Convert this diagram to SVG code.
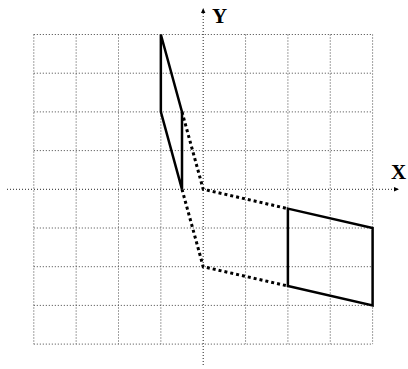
<svg xmlns="http://www.w3.org/2000/svg" width="408" height="369" viewBox="0 0 408 369">
<style>
.grid{stroke:#444;stroke-width:1;stroke-dasharray:1 2;fill:none}
.axis{stroke:#222;stroke-width:1;stroke-dasharray:1 2;fill:none}
.shape{stroke:#000;stroke-width:2.5;fill:none;stroke-linejoin:miter}
.proj{stroke:#000;stroke-width:3;stroke-dasharray:3 3;fill:none}
.lbl{font-family:"Liberation Serif","Times New Roman",serif;font-size:21px;font-weight:bold;fill:#000}
</style>
<defs>
<marker id="ah" markerWidth="6" markerHeight="6" refX="5" refY="3" orient="auto" markerUnits="userSpaceOnUse">
<path d="M0,0.8 L5,3 L0,5.2 Z" fill="#000"/>
</marker>
</defs>
<rect width="408" height="369" fill="#fff"/>
<g id="grid">
<path class="grid" d="M33.8,34.5V344.1M76.15,34.5V344.1M118.5,34.5V344.1M160.85,34.5V344.1M245.55,34.5V344.1M287.9,34.5V344.1M330.25,34.5V344.1M372.6,34.5V344.1"/>
<path class="grid" d="M33.8,34.5H372.6M33.8,73.2H372.6M33.8,111.9H372.6M33.8,150.6H372.6M33.8,228H372.6M33.8,266.7H372.6M33.8,305.4H372.6M33.8,344.1H372.6"/>
</g>
<g id="axes">
<line class="axis" x1="7" y1="189.3" x2="399" y2="189.3" marker-end="url(#ah)"/>
<line class="axis" x1="203.2" y1="365" x2="203.2" y2="8" marker-end="url(#ah)"/>
<text class="lbl" x="391" y="179">X</text>
<text class="lbl" x="212" y="23">Y</text>
</g>
<g id="small-shape">
<polygon class="shape" points="160.85,34.5 182,111.9 182,189.3 160.85,111.9"/>
</g>
<g id="big-shape">
<polygon class="shape" points="287.9,208.65 372.6,228 372.6,305.4 287.9,286.05"/>
</g>
<g id="connectors">
<polyline class="proj" points="182,111.9 203.2,189.3 287.9,208.65"/>
<polyline class="proj" points="182,189.3 203.2,266.7 287.9,286.05"/>
</g>
</svg>
